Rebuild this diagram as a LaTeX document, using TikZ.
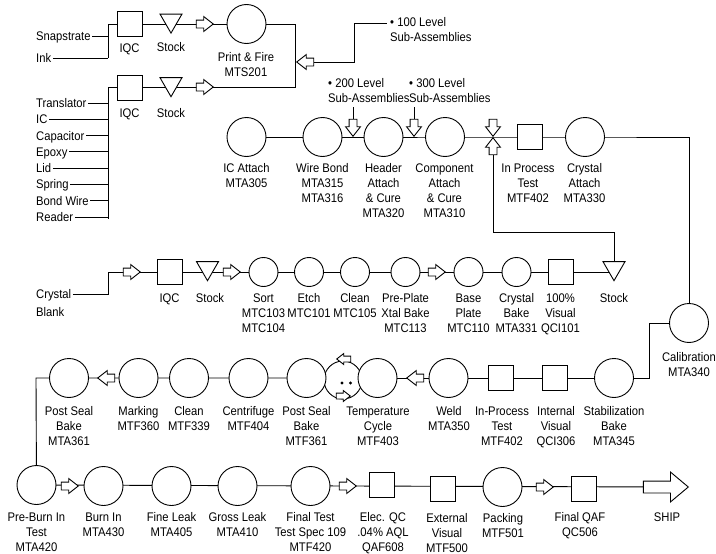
\documentclass[tikz,border=0pt]{standalone}
\usepackage{fontspec}
\setmainfont{Liberation Sans}[FakeStretch=0.9]
\usetikzlibrary{shapes.geometric,shapes.arrows}
\pgfdeclarelayer{bg}
\pgfsetlayers{bg,main}
\begin{document}
\begin{tikzpicture}[x=1pt,y=-1pt,
  every node/.style={font=\fontsize{12.5}{15}\selectfont},
  ln/.style={line width=0.9pt},
  bigc/.style={circle,draw,line width=0.9pt,fill=white,minimum size=39pt,inner sep=0pt},
  smallc/.style={bigc,minimum size=29pt},
  qbox/.style={rectangle,draw,line width=0.9pt,fill=white,minimum size=25pt,inner sep=0pt},
  stocktri/.style={regular polygon,regular polygon sides=3,shape border rotate=180,draw,line width=0.9pt,fill=white,minimum size=25.4pt,inner sep=0pt},
  harrow/.style={single arrow,draw,line width=0.9pt,fill=white,minimum height=17pt,inner xsep=0pt,inner ysep=3.5pt,single arrow head extend=3.5pt,single arrow tip angle=76,anchor=tip},
  varrow/.style={harrow,inner xsep=3.5pt,inner ysep=0pt},
  tarrow/.style={harrow,minimum height=14pt,inner ysep=2.5pt,single arrow head extend=2.5pt},
  lbl/.style={align=center,inner sep=0pt,anchor=north},
  lvl/.style={align=left,inner sep=0pt,anchor=north west},
  src/.style={inner sep=0pt,inner xsep=1.5pt,anchor=west,text height=9pt,text depth=0pt},
  dot/.style={circle,fill,inner sep=0pt,minimum size=3.4pt},
]
\useasboundingbox (0,0) rectangle (716,554);

% ---------- row 1 ----------
\coordinate (j1) at (108,24);
\coordinate (j1c) at (108,58);
\node[src] (snap) at (34.5,36) {Snapstrate};
\node[src] (ink) at (34.5,58) {Ink};
\node[qbox] (iqc1) at (129.5,24) {};
\node[stocktri] (st1) at (171,20.4) {};
\node[harrow] (a1) at (214,24) {};
\node[bigc] (pf) at (246.5,24) {};
\coordinate (c1) at (295,24);
\coordinate (c2) at (295,87);
\node[harrow,shape border rotate=180] (a100) at (296,62) {};
\coordinate (c3) at (354,62);
\coordinate (c4) at (354,23);
\coordinate (c5) at (387,23);
\node[lvl] (t100) at (390,17.4) {• 100 Level\\Sub-Assemblies};
\node[lbl] (liqc1) at (129.5,43.4) {IQC};
\node[lbl] (lst1) at (171,42.4) {Stock};
\node[lbl] (lpf) at (246,52.4) {Print \& Fire\\MTS201};

% ---------- row 2 ----------
\coordinate (j2) at (108,87);
\coordinate (j2e) at (108,219);
\node[qbox] (iqc2) at (129.5,87.5) {};
\node[stocktri] (st2) at (171,84) {};
\node[harrow] (a2) at (214,87) {};
\node[lbl] (liqc2) at (129.5,108.4) {IQC};
\node[lbl] (lst2) at (171,108.4) {Stock};
\node[src] (s1) at (34.5,103) {Translator};
\node[src] (s2) at (34.5,119.3) {IC};
\node[src] (s3) at (34.5,135.6) {Capacitor};
\node[src] (s4) at (34.5,151.9) {Epoxy};
\node[src] (s5) at (34.5,168.2) {Lid};
\node[src] (s6) at (34.5,184.4) {Spring};
\node[src] (s7) at (34.5,200.7) {Bond Wire};
\node[src] (s8) at (34.5,217) {Reader};

% ---------- assembly row ----------
\node[bigc] (ica) at (246.5,137) {};
\node[bigc] (wb) at (322.5,137) {};
\node[bigc] (hac) at (383.5,137) {};
\node[bigc] (cac) at (445,137) {};
\node[qbox] (ipt) at (529.5,137) {};
\node[bigc] (caa) at (585,137) {};
\node[varrow,shape border rotate=270] (a200) at (353,137) {};
\node[varrow,shape border rotate=270] (a300) at (414,137) {};
\node[varrow,shape border rotate=270] (xd) at (493,137) {};
\node[varrow,shape border rotate=90] (xu) at (493,137) {};
\coordinate (l200) at (353,107);
\coordinate (l300) at (414,107);
\node[lvl] (t200) at (328,78.4) {• 200 Level\\Sub-Assemblies};
\node[lvl] (t300) at (409,78.4) {• 300 Level\\Sub-Assemblies};
\coordinate (d1) at (493,232);
\coordinate (d2) at (614,232);
\coordinate (r1) at (689,137);
\node[lbl] (lica) at (246.5,163.4) {IC Attach\\MTA305};
\node[lbl] (lwb) at (322.5,163.4) {Wire Bond\\MTA315\\MTA316};
\node[lbl] (lhac) at (383.5,163.4) {Header\\Attach\\\& Cure\\MTA320};
\node[lbl] (lcac) at (444.5,163.4) {Component\\Attach\\\& Cure\\MTA310};
\node[lbl] (lipt) at (528,163.4) {In Process\\Test\\MTF402};
\node[lbl] (lcaa) at (584.5,163.4) {Crystal\\Attach\\MTA330};

% ---------- crystal row ----------
\coordinate (j3) at (108,272);
\node[src] (crys) at (34.5,294) {Crystal};
\node[src] (blank) at (34.5,311.5) {Blank};
\node[harrow] (a3a) at (141,272) {};
\node[qbox] (iqc3) at (169.5,272) {};
\node[stocktri] (st3a) at (207.5,268) {};
\node[harrow] (a3b) at (241,272) {};
\node[smallc] (sort) at (263.5,272) {};
\node[smallc] (etch) at (309,272) {};
\node[smallc] (cln) at (355,272) {};
\node[smallc] (pp) at (405.5,272) {};
\node[harrow] (a3c) at (446,272) {};
\node[smallc] (bp) at (468.5,272) {};
\node[smallc] (cb) at (516.5,272) {};
\node[qbox] (vis) at (560.5,272) {};
\node[stocktri] (st3) at (614,268) {};
\node[lbl] (liqc3) at (169.5,293.4) {IQC};
\node[lbl] (lst3a) at (210,293.4) {Stock};
\node[lbl] (lsort) at (263.5,293.4) {Sort\\MTC103\\MTC104};
\node[lbl] (letch) at (309,293.4) {Etch\\MTC101};
\node[lbl] (lcln) at (355,293.4) {Clean\\MTC105};
\node[lbl] (lpp) at (405.5,293.4) {Pre-Plate\\Xtal Bake\\MTC113};
\node[lbl] (lbp) at (468.5,293.4) {Base\\Plate\\MTC110};
\node[lbl] (lcb) at (516.5,293.4) {Crystal\\Bake\\MTA331};
\node[lbl] (lvis) at (560.5,293.4) {100\%\\Visual\\QCI101};
\node[lbl] (lst3) at (614,293.4) {Stock};

% ---------- calibration ----------
\node[bigc] (cal) at (689,323) {};
\node[lbl] (lcal) at (689,352.4) {Calibration\\MTA340};
\coordinate (k1) at (649,378);
\coordinate (k2) at (649,323);

% ---------- row 4 ----------
\node[circle,draw,line width=0.9pt,fill=white,minimum size=38pt,inner sep=0pt] (blob) at (343,380) {};
\node[bigc] (stab) at (614,378) {};
\node[qbox] (ivis) at (554.5,378) {};
\node[qbox] (ipt2) at (500.5,378) {};
\node[bigc] (weld) at (448.5,378) {};
\node[harrow,shape border rotate=180] (a4a) at (406,378) {};
\node[bigc] (temp) at (377.5,378) {};
\node[bigc] (psb2) at (306.5,378) {};
\node[bigc] (cent) at (248.5,378) {};
\node[bigc] (cln2) at (189,378) {};
\node[bigc] (mark) at (138.5,378) {};
\node[harrow,shape border rotate=180] (a4b) at (97,378) {};
\node[bigc] (psb1) at (69,378) {};
\coordinate (p1) at (36,378);
\node[tarrow,shape border rotate=190] (tc1) at (336,359) {};
\node[tarrow,shape border rotate=10] (tc2) at (351,396) {};
\node[dot] (dt1) at (342,383) {};
\node[dot] (dt2) at (350.5,383) {};
\node[lbl] (lpsb1) at (69,406.4) {Post Seal\\Bake\\MTA361};
\node[lbl] (lmark) at (138.5,406.4) {Marking\\MTF360};
\node[lbl] (lcln2) at (189,406.4) {Clean\\MTF339};
\node[lbl] (lcent) at (248.5,406.4) {Centrifuge\\MTF404};
\node[lbl] (lpsb2) at (306.5,406.4) {Post Seal\\Bake\\MTF361};
\node[lbl] (ltemp) at (378,406.4) {Temperature\\Cycle\\MTF403};
\node[lbl] (lweld) at (449,406.4) {Weld\\MTA350};
\node[lbl] (lipt2) at (502,406.4) {In-Process\\Test\\MTF402};
\node[lbl] (livis) at (556,406.4) {Internal\\Visual\\QCI306};
\node[lbl] (lstab) at (614,406.4) {Stabilization\\Bake\\MTA345};

% ---------- row 5 ----------
\node[bigc] (pb) at (36.5,485) {};
\node[harrow] (a5a) at (79,486) {};
\node[bigc] (bi) at (103.5,486) {};
\node[bigc] (fl) at (171.5,486) {};
\node[bigc] (gl) at (237.5,486) {};
\node[bigc] (ft) at (310.5,486) {};
\node[harrow] (a5b) at (357,486) {};
\node[qbox] (eqc) at (381.5,485) {};
\node[qbox] (ev) at (443,489) {};
\node[bigc] (pk) at (502.5,487) {};
\node[harrow] (a5c) at (554,487) {};
\node[qbox] (fq) at (583.5,489) {};
\node[single arrow,draw,line width=0.9pt,fill=white,minimum height=45pt,inner xsep=0pt,inner ysep=5.5pt,single arrow head extend=9pt,single arrow tip angle=80,anchor=tip] (ship) at (689,487) {};
\node[lbl] (lpb) at (36.5,512.4) {Pre-Burn In\\Test\\MTA420};
\node[lbl] (lbi) at (103.5,512.4) {Burn In\\MTA430};
\node[lbl] (lfl) at (171.5,512.4) {Fine Leak\\MTA405};
\node[lbl] (lgl) at (237.5,512.4) {Gross Leak\\MTA410};
\node[lbl] (lft) at (310.5,512.4) {Final Test\\Test Spec 109\\MTF420};
\node[lbl] (leqc) at (383,512.4) {Elec. QC\\.04\% AQL\\QAF608};
\node[lbl] (lev) at (447,513.4) {External\\Visual\\MTF500};
\node[lbl] (lpk) at (503,513.4) {Packing\\MTF501};
\node[lbl] (lfq) at (580,512.4) {Final QAF\\QC506};
\node[lbl] (lship) at (667,512.4) {SHIP};

% ---------- connectors ----------
\begin{pgfonlayer}{bg}
\draw[ln] (j1) -- (j1c);
\draw[ln] (snap.east) -- (snap.east -| j1);
\draw[ln] (ink.east) -- (j1c);
\draw[ln] (j1) -- (c1) -- (c2) -- (j2) -- (j2e);
\foreach \s in {s1,s2,s3,s4,s5,s6,s7,s8} \draw[ln] (\s.east) -- (\s.east -| j2);
\draw[ln] (a100.tail) -- (c3) -- (c4) -- (c5);
\draw[ln] (ica.center) -- (caa.center) -- (r1) -- (cal.center);
\draw[ln] (a200.tail) -- (l200);
\draw[ln] (a300.tail) -- (l300);
\draw[ln] (xu.tail) -- (d1) -- (d2) -- (st3.north);
\draw[ln] (crys.east) -- (crys.east -| j3) -- (j3) -- (vis.center -| st3);
\draw[ln] (stab.center) -- (k1) -- (k2) -- (cal.center);
\draw[ln] (stab.center) -- (temp.center);
\draw[ln] (psb2.center) -- (psb1.center) -- (p1) -- (pb.center);
\draw[ln] (pb.center) -- (ship.center);
\end{pgfonlayer}
\end{tikzpicture}
\end{document}
